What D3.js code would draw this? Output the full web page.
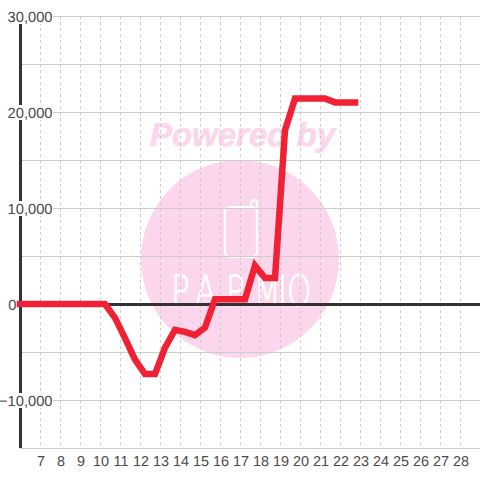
<!DOCTYPE html>
<html><head><meta charset="utf-8"><style>html,body{margin:0;background:#fff}svg{display:block}text{font-family:"Liberation Sans",sans-serif;text-rendering:geometricPrecision}</style>
<script src="https://cdn.jsdelivr.net/npm/d3@7"></script></head><body><svg id="c" width="480" height="480"></svg>
<script>
const xTicks=[7,8,9,10,11,12,13,14,15,16,17,18,19,20,21,22,23,24,25,26,27,28];
const yGrid=[-15000,-10000,-5000,0,5000,10000,15000,20000,25000,30000];
const yLabels=[-10000,0,10000,20000,30000];
const lineX=[6,6.5,7,7.5,8,8.5,9,9.5,10,10.25,10.75,11.25,11.75,12.25,12.75,13.25,13.75,14.25,14.75,15.25,15.75,16.25,16.75,17.25,17.75,18.25,18.75,19.25,19.75,20.25,20.75,21.25,21.75,22.25,22.75];
const lineV=[0,0,0,0,0,0,0,0,0,0,-1450,-3550,-5800,-7300,-7300,-4550,-2700,-2900,-3250,-2450,500,500,500,500,4000,2700,2700,18100,21400,21400,21400,21400,21000,21000,21000];
const logoLetters="PAPMIO";
const logoStarts=[171,195,226,254,278,287];
const svg=d3.select("#c");
const x=d3.scaleLinear().domain([6,29]).range([20,480]);
const y=d3.scaleLinear().domain([-15000,30000]).range([448,16]);
const fmt=d3.format(",");
const pink="#fbd6ec";
const wm=svg.append("g");
wm.append("circle").attr("cx",240).attr("cy",259).attr("r",99).attr("fill",pink);
wm.append("text").attr("x",242.5).attr("y",146).attr("text-anchor","middle").attr("font-size",33).attr("font-weight","bold").attr("font-style","italic").attr("fill",pink).attr("stroke",pink).attr("stroke-width",0.6).text("Powered by");
wm.append("rect").attr("x",225).attr("y",207).attr("width",32).attr("height",50).attr("rx",5).attr("fill","none").attr("stroke","#fff").attr("stroke-width",2.2);
wm.append("path").attr("d","M251,207V203Q254,198 257,202V212").attr("fill","none").attr("stroke","#fff").attr("stroke-width",2.2);
wm.append("text").attr("transform","translate(0,306) scale(0.72,1)").attr("x",logoStarts.map(d=>d/0.72).join(" ")).attr("y",0).attr("font-size",43).style("font-family","'DejaVu Sans'").attr("font-weight",200).attr("fill","#fff").attr("stroke","#fff").attr("stroke-width",0.9).text(logoLetters);
svg.append("g").selectAll("line").data(xTicks).join("line").attr("x1",d=>x(d)+.5).attr("x2",d=>x(d)+.5).attr("y1",16).attr("y2",448).attr("stroke","#ccc").attr("stroke-dasharray","3,3");
svg.append("g").selectAll("line").data(yGrid).join("line").attr("x1",20).attr("x2",480).attr("y1",d=>y(d)+.5).attr("y2",d=>y(d)+.5).attr("stroke","#ccc");
svg.append("line").attr("x1",20.5).attr("x2",20.5).attr("y1",16).attr("y2",448).attr("stroke","#333").attr("stroke-width",3);
svg.append("line").attr("x1",20).attr("x2",480).attr("y1",y(0)+.5).attr("y2",y(0)+.5).attr("stroke","#333").attr("stroke-width",3);
const lab=svg.append("g").selectAll("g").data(yLabels).join("g");
lab.append("rect").attr("x",0).attr("y",d=>y(d)-7).attr("width",d=>d===0?17:53).attr("height",15).attr("fill","#fff");
lab.append("text").attr("x",d=>d===0?16.5:52.5).attr("y",d=>y(d)+5.5).attr("text-anchor","end").attr("font-size",14.7).attr("fill","#4a4a4a").text(d=>fmt(d));
svg.append("g").selectAll("text").data(xTicks).join("text").attr("x",d=>x(d)+1).attr("y",466).attr("text-anchor","middle").attr("font-size",14.4).attr("fill","#4a4a4a").text(d=>d);
svg.append("path").datum(lineX.map((d,i)=>[d,lineV[i]])).attr("d",d3.line().x(d=>x(d[0])).y(d=>y(d[1]))).attr("fill","none").attr("stroke","#f02035").attr("stroke-width",6.5).attr("stroke-linejoin","miter").attr("stroke-linecap","square");
</script></body></html>
